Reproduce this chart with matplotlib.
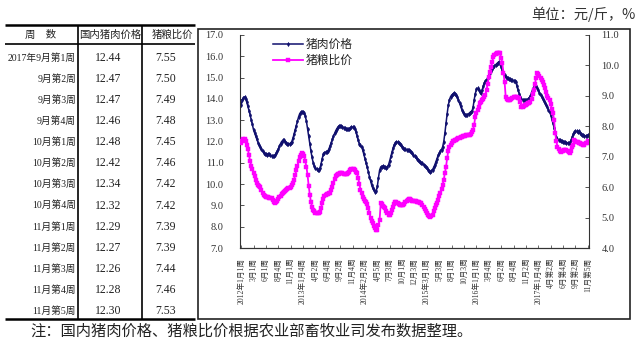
import matplotlib
matplotlib.use('Agg')
import matplotlib.pyplot as plt
from matplotlib.patches import Rectangle
from matplotlib.ticker import FormatStrFormatter

# ---------------- data ----------------
table_weeks = ["2017年9月第1周", "9月第2周", "9月第3周", "9月第4周", "10月第1周",
               "10月第2周", "10月第3周", "10月第4周", "11月第1周", "11月第2周",
               "11月第3周", "11月第4周", "11月第5周"]
table_pork = [12.44, 12.47, 12.47, 12.46, 12.48, 12.42, 12.34, 12.32, 12.29, 12.27, 12.26, 12.28, 12.30]
table_ratio = [7.55, 7.50, 7.49, 7.48, 7.45, 7.46, 7.42, 7.42, 7.39, 7.39, 7.44, 7.46, 7.53]

x_labels = ["2012年1月1周", "3月1周", "6月1周", "8月4周", "11月1周",
            "2013年1月4周", "4月2周", "6月4周", "9月2周", "11月4周",
            "2014年2月2周", "4月5周", "7月3周", "10月1周", "12月3周",
            "2015年3月1周", "5月3周", "8月1周", "10月3周",
            "2016年1月1周", "3月4周", "6月2周", "8月4周", "11月2周",
            "2017年1月4周", "4月第2周", "6月第4周", "9月第2周", "11月第5周"]

pork_price = [
    13.70, 13.95, 14.05, 14.10, 14.00, 13.85, 13.65, 13.45, 13.25, 13.00, 12.80,
    12.55, 12.40, 12.25, 12.10, 11.95, 11.85, 11.75, 11.65, 11.55, 11.48, 11.42,
    11.40, 11.38, 11.42, 11.40, 11.35, 11.32, 11.30, 11.30, 11.35, 11.45, 11.55,
    11.65, 11.78, 11.90, 12.00, 12.05, 12.08, 12.00, 11.95, 11.90, 11.88, 11.90,
    11.92, 12.00, 12.15, 12.35, 12.55, 12.75, 12.95, 13.15, 13.30, 13.38, 13.40,
    13.40, 13.35, 13.20, 12.95, 12.60, 12.25, 11.90, 11.55, 11.25, 11.00, 10.85,
    10.75, 10.70, 10.66, 10.68, 10.75, 10.95, 11.20, 11.40, 11.48, 11.50, 11.52,
    11.55, 11.65, 11.80, 11.95, 12.10, 12.25, 12.38, 12.50, 12.60, 12.68, 12.72,
    12.75, 12.73, 12.70, 12.65, 12.62, 12.60, 12.58, 12.58, 12.60, 12.63, 12.66,
    12.68, 12.66, 12.60, 12.45, 12.25, 12.05, 11.90, 11.82, 11.75, 11.60, 11.40,
    11.20, 11.00, 10.80, 10.58, 10.35, 10.15, 9.95, 9.80, 9.70, 9.65, 9.68,
    9.90, 10.30, 10.65, 10.80, 10.82, 10.85, 10.82, 10.78, 10.76, 10.80, 10.92,
    11.10, 11.30, 11.50, 11.70, 11.85, 11.95, 11.98, 11.97, 11.95, 11.90, 11.82,
    11.75, 11.70, 11.66, 11.63, 11.62, 11.60, 11.58, 11.55, 11.50, 11.45, 11.38,
    11.30, 11.25, 11.20, 11.15, 11.10, 11.05, 11.00, 10.98, 10.92, 10.85, 10.80,
    10.75, 10.68, 10.62, 10.58, 10.60, 10.68, 10.78, 10.90, 11.05, 11.20, 11.35,
    11.45, 11.55, 11.62, 11.75, 12.00, 12.40, 12.85, 13.30, 13.70, 13.95, 14.10,
    14.18, 14.22, 14.26, 14.25, 14.20, 14.10, 13.95, 13.80, 13.65, 13.50, 13.38,
    13.30, 13.25, 13.24, 13.26, 13.30, 13.35, 13.40, 13.42, 13.60, 13.95, 14.25,
    14.45, 14.50, 14.42, 14.34, 14.30, 14.40, 14.60, 14.75, 14.85, 14.90, 15.00,
    15.10, 15.20, 15.30, 15.40, 15.50, 15.55, 15.60, 15.65, 15.70, 15.75, 15.65,
    15.50, 15.35, 15.20, 15.10, 15.04, 15.00, 14.98, 14.95, 14.92, 14.90, 14.88,
    14.86, 14.86, 14.80, 14.60, 14.40, 14.25, 14.10, 14.00, 13.95, 13.95, 13.93,
    13.95, 13.96, 13.98, 14.05, 14.15, 14.30, 14.45, 14.58, 14.65, 14.62, 14.50,
    14.40, 14.30, 14.20, 14.10, 14.00, 13.90, 13.80, 13.70, 13.60, 13.50, 13.40,
    13.25, 13.05, 12.85, 12.65, 12.40, 12.20, 12.10, 12.05, 12.05, 12.03, 12.02,
    12.00, 11.98, 11.97, 11.95, 11.94, 11.93, 11.94, 12.05, 12.20, 12.35, 12.44,
    12.47, 12.47, 12.46, 12.48, 12.42, 12.34, 12.32, 12.29, 12.27, 12.26, 12.28,
    12.30]

pig_grain_ratio = [
    7.44, 7.52, 7.57, 7.57, 7.50, 7.40, 7.25, 7.05, 6.85, 6.70, 6.58,
    6.45, 6.35, 6.25, 6.15, 6.08, 6.03, 6.01, 5.92, 5.82, 5.75, 5.70,
    5.69, 5.69, 5.66, 5.64, 5.65, 5.64, 5.58, 5.52, 5.48, 5.50, 5.56,
    5.62, 5.68, 5.72, 5.76, 5.80, 5.83, 5.86, 5.90, 5.93, 5.96, 5.98,
    6.02, 6.08, 6.14, 6.25, 6.40, 6.55, 6.70, 6.85, 6.98, 7.07, 7.11,
    7.10, 7.02, 6.85, 6.67, 6.40, 6.05, 5.75, 5.52, 5.35, 5.25, 5.20,
    5.16, 5.14, 5.14, 5.16, 5.19, 5.30, 5.48, 5.62, 5.70, 5.74, 5.76,
    5.78, 5.80, 5.82, 5.90, 6.02, 6.15, 6.28, 6.38, 6.40, 6.42, 6.44,
    6.45, 6.45, 6.45, 6.44, 6.43, 6.43, 6.43, 6.45, 6.50, 6.55, 6.58,
    6.60, 6.60, 6.56, 6.50, 6.45, 6.30, 6.10, 5.92, 5.80, 5.69, 5.62,
    5.56, 5.52, 5.45, 5.30, 5.15, 5.00, 4.88, 4.81, 4.72, 4.65, 4.59,
    4.60, 4.75, 4.92, 5.47, 5.45, 5.38, 5.35, 5.30, 5.22, 5.15, 5.08,
    5.08, 5.15, 5.25, 5.35, 5.45, 5.52, 5.52, 5.48, 5.45, 5.42, 5.41,
    5.41, 5.42, 5.45, 5.50, 5.55, 5.58, 5.60, 5.60, 5.58, 5.56, 5.55,
    5.54, 5.53, 5.52, 5.52, 5.50, 5.49, 5.47, 5.42, 5.35, 5.28, 5.20,
    5.14, 5.10, 5.06, 5.03, 5.04, 5.10, 5.20, 5.30, 5.40, 5.47, 5.58,
    5.70, 5.82, 5.95, 6.07, 6.25, 6.45, 6.67, 6.95, 7.20, 7.33, 7.40,
    7.45, 7.50, 7.52, 7.54, 7.55, 7.57, 7.60, 7.62, 7.64, 7.66, 7.67,
    7.68, 7.69, 7.70, 7.71, 7.71, 7.72, 7.75, 7.80, 7.88, 8.05, 8.32,
    8.45, 8.55, 8.65, 8.76, 8.80, 8.85, 8.90, 8.95, 9.03, 9.20, 9.40,
    9.63, 9.80, 9.95, 10.10, 10.29, 10.35, 10.38, 10.40, 10.42, 10.40, 10.40,
    10.25, 10.07, 9.75, 9.47, 8.97, 8.90, 8.87, 8.86, 8.88, 8.90, 8.92,
    8.95, 8.97, 8.97, 8.96, 8.94, 8.92, 8.80, 8.64, 8.65, 8.68, 8.70,
    8.70, 8.72, 8.75, 8.78, 8.81, 8.90, 9.05, 9.19, 9.40, 9.60, 9.74,
    9.72, 9.66, 9.58, 9.52, 9.45, 9.36, 9.25, 9.12, 9.00, 8.92, 8.86,
    8.72, 8.58, 8.43, 8.20, 7.77, 7.50, 7.33, 7.25, 7.20, 7.17, 7.18,
    7.20, 7.22, 7.22, 7.22, 7.18, 7.14, 7.11, 7.20, 7.32, 7.39, 7.55,
    7.50, 7.49, 7.48, 7.45, 7.46, 7.42, 7.42, 7.39, 7.39, 7.44, 7.46,
    7.53]

series_names = ["猪肉价格", "猪粮比价"]
unit_text = "单位：元/斤，%"
note_text = "注：国内猪肉价格、猪粮比价根据农业部畜牧业司发布数据整理。"
table_header = ["周　数", "国内猪肉价格", "猪粮比价"]

# ---------------- layout ----------------
W, H = 640, 343
SERIF = ['Liberation Serif', 'Noto Sans CJK SC']
CJK = ['Noto Sans CJK SC', 'DejaVu Sans']
plt.rcParams['font.family'] = SERIF

fig = plt.figure(figsize=(6.4, 3.43), dpi=100)
fig.patch.set_facecolor('white')

bg = fig.add_axes([0, 0, 1, 1])
bg.set_xlim(0, W)
bg.set_ylim(H, 0)
bg.axis('off')

# table
bg.plot([5, 195], [25, 25], color='black', lw=1.8, solid_capstyle='butt')
bg.plot([5, 195], [44, 44], color='black', lw=1.2, solid_capstyle='butt')
bg.plot([5, 195], [319, 319], color='black', lw=1.8, solid_capstyle='butt')
for xv in (78, 142):
    bg.plot([xv, xv], [25, 319], color='black', lw=1.2, solid_capstyle='butt')

hx = [41, 110, 172]
for t, xx in zip(table_header, hx):
    bg.text(xx, 35, t, ha='center', va='center', fontsize=7.5, family=CJK, color='#222')

for i, (w, p, r) in enumerate(zip(table_weeks, table_pork, table_ratio)):
    yy = 58 + i * 21.08
    bg.text(76, yy, w, ha='right', va='center', fontsize=7.0, family=SERIF, color='#222')
    bg.text(108, yy, f"{p:.2f}", ha='center', va='center', fontsize=8.5, family=SERIF, color='#222')
    bg.text(166, yy, f"{r:.2f}", ha='center', va='center', fontsize=8.5, family=SERIF, color='#222')

# chart frame
bg.add_patch(Rectangle((198, 29), 432, 290, fill=False, lw=1.2, ec='#222'))

# unit + note
bg.text(636, 14, unit_text, ha='right', va='center', fontsize=10.3, family=CJK, color='#333')
bg.text(30, 331, note_text, ha='left', va='center', fontsize=11, family=CJK, color='#222')

# ---------------- chart ----------------
L, R, T, B = 240, 589, 35, 248
ax = fig.add_axes([L / W, (H - B) / H, (R - L) / W, (B - T) / H])
ax.patch.set_alpha(0)
ax2 = ax.twinx()

idx = list(range(len(pork_price)))
l1, = ax.plot(idx, pork_price, color='#10106e', lw=1.1, marker='d', ms=2.2,
              markeredgewidth=0.3, label=series_names[0])
l2, = ax2.plot(idx, pig_grain_ratio, color='#ff00ff', lw=1.3, marker='s', ms=3.0,
               markeredgewidth=0.3, label=series_names[1])

ax.set_xlim(-1, len(pork_price))
ax.set_ylim(7, 17)
ax2.set_ylim(4, 11)
ax.set_yticks(range(7, 18))
ax2.set_yticks(range(4, 12))
ax.yaxis.set_major_formatter(FormatStrFormatter('%.1f'))
ax2.yaxis.set_major_formatter(FormatStrFormatter('%.1f'))

ax.set_xticks(range(0, len(pork_price), 11))
ax.set_xticklabels(x_labels, rotation=90, fontsize=5.5, family=SERIF, va='top', ha='center')

for a in (ax, ax2):
    a.spines['top'].set_visible(False)
    for s in a.spines.values():
        s.set_linewidth(0.8)
        s.set_color('#333')
ax2.spines['left'].set_visible(False)
ax.spines['right'].set_visible(False)

ax.tick_params(axis='y', direction='in', length=3, width=0.6, pad=12, labelsize=7.5, colors='#333')
ax2.tick_params(axis='y', direction='in', length=3, width=0.6, pad=9, labelsize=7.5, colors='#333')
ax.tick_params(axis='x', direction='in', length=2, width=0.5, pad=7, colors='#333')

leg = ax2.legend(handles=[l1, l2], loc='upper left',
                 bbox_to_anchor=((273 - L) / (R - L), (B - 38) / (B - T)),
                 frameon=False, borderpad=0, borderaxespad=0,
                 handlelength=2.5, handletextpad=0.3, labelspacing=0.25,
                 prop={'family': CJK, 'size': 8.5})
for t in leg.get_texts():
    t.set_color('#222')

fig.savefig('out.png', dpi=100, facecolor='white')
